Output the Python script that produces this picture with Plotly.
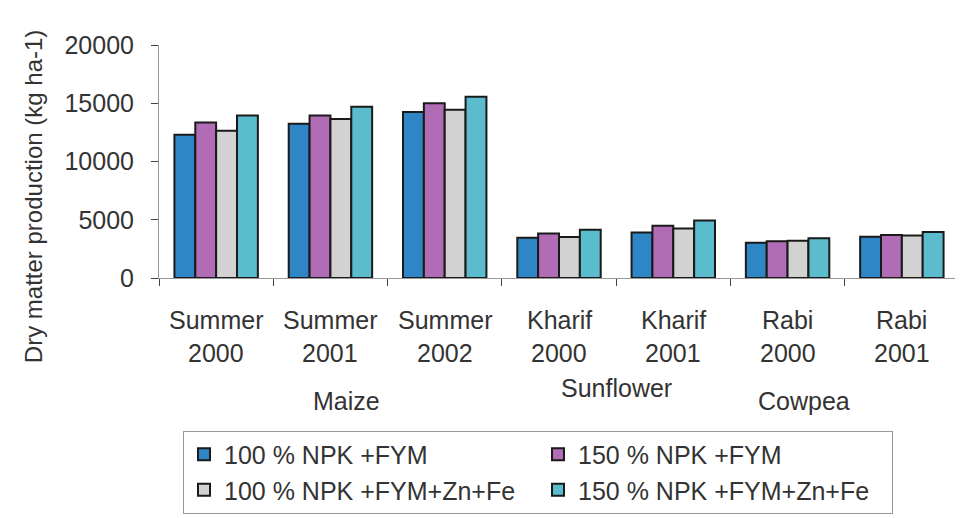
import plotly.graph_objects as go

categories = ["Summer 2000", "Summer 2001", "Summer 2002", "Kharif 2000",
              "Kharif 2001", "Rabi 2000", "Rabi 2001"]
seasons = ["Summer", "Summer", "Summer", "Kharif", "Kharif", "Rabi", "Rabi"]
years = ["2000", "2001", "2002", "2000", "2001", "2000", "2001"]
crops = ["Maize", "Sunflower", "Cowpea"]
y_ticks = [0, 5000, 10000, 15000, 20000]

series_names = ["100 % NPK +FYM", "150 % NPK +FYM",
                "100 % NPK +FYM+Zn+Fe", "150 % NPK +FYM+Zn+Fe"]
npk100_fym = [12300, 13250, 14250, 3450, 3900, 3020, 3550]
npk150_fym = [13350, 13950, 15000, 3820, 4480, 3160, 3700]
npk100_fym_znfe = [12650, 13650, 14450, 3530, 4250, 3190, 3640]
npk150_fym_znfe = [13950, 14700, 15550, 4140, 4940, 3420, 3950]
values = [npk100_fym, npk150_fym, npk100_fym_znfe, npk150_fym_znfe]

colors = ["#2f86c6", "#b06db6", "#d2d2d2", "#5bbccd"]
FONT = "Liberation Sans, Arial, sans-serif"
TXT = "#333333"
FS = 25

fig = go.Figure()
for name, vals, col in zip(series_names, values, colors):
    fig.add_trace(go.Bar(
        x=categories, y=vals, name=name,
        marker=dict(color=col, line=dict(color="#1a1a1a", width=2)),
    ))

annotations = []
for cat, s, yv in zip(categories, seasons, years):
    annotations.append(dict(x=cat, xref="x", y=-0.18, yref="paper", text=s,
                            showarrow=False, font=dict(size=FS, color=TXT, family=FONT),
                            yanchor="middle"))
    annotations.append(dict(x=cat, xref="x", y=-0.321, yref="paper", text=yv,
                            showarrow=False, font=dict(size=FS, color=TXT, family=FONT),
                            yanchor="middle"))
crop_pos = [(0.19, -0.526), (0.572, -0.474), (0.866, -0.526)]
for c, (px, py) in zip(crops, crop_pos):
    annotations.append(dict(x=px, xref="paper", y=py, yref="paper", text=c,
                            showarrow=False, font=dict(size=FS, color=TXT, family=FONT),
                            yanchor="middle"))
annotations.append(dict(x=-0.176, xref="paper", y=0.35, yref="paper",
                        text="Dry matter production (kg ha-1)", textangle=-90,
                        showarrow=False, font=dict(size=24, color=TXT, family=FONT)))

fig.update_layout(
    width=963, height=518,
    margin=dict(l=151, r=12, t=37, b=248, autoexpand=False),
    paper_bgcolor="white", plot_bgcolor="white",
    barmode="group", bargap=0.27, bargroupgap=0,
    font=dict(family=FONT, color=TXT),
    xaxis=dict(showticklabels=False, showline=True, linecolor="#999999", linewidth=1,
               ticks="outside", tickson="boundaries", ticklen=7, tickcolor="#444444",
               showgrid=False, zeroline=False),
    yaxis=dict(range=[0, 20000], tickvals=y_ticks, tickformat="d",
               showline=True, linecolor="#999999", linewidth=1,
               ticks="outside", ticklen=7, tickcolor="#444444",
               ticklabelstandoff=12,
               showgrid=False, zeroline=False,
               tickfont=dict(size=FS, color=TXT, family=FONT)),
    legend=dict(orientation="h", x=0.03, xanchor="left", y=-0.655, yanchor="top",
                entrywidth=309, entrywidthmode="pixels",
                bordercolor="#999999", borderwidth=1,
                font=dict(size=FS, color=TXT, family=FONT),
                itemsizing="constant", tracegroupgap=0),
    annotations=annotations,
    showlegend=True,
)

fig.write_html("out.html")
